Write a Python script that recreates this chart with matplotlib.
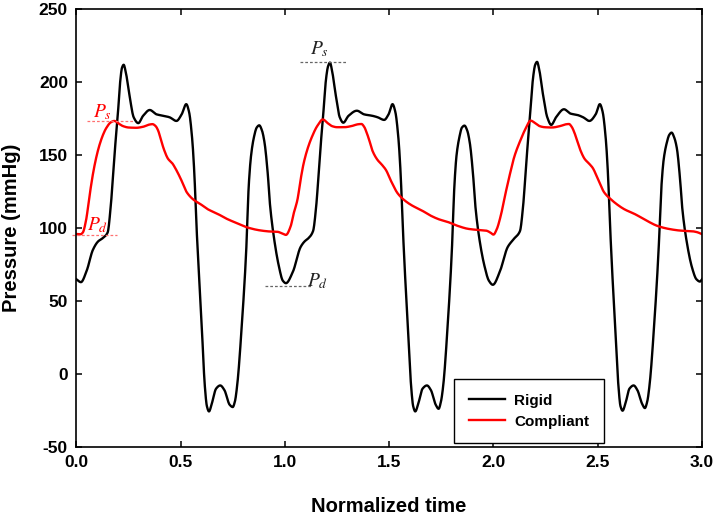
import numpy as np
import matplotlib
matplotlib.use("Agg")
import matplotlib.pyplot as plt

plt.rcParams["font.family"] = ["Liberation Sans", "DejaVu Sans"]
plt.rcParams["mathtext.fontset"] = "stix"
plt.rcParams["axes.unicode_minus"] = False

# Rigid tube pressure (normalized time, mmHg)
rigid_t = [0.000, 0.022, 0.050, 0.079, 0.105, 0.125, 0.150, 0.165, 0.178, 0.190,
           0.200, 0.210, 0.219, 0.227, 0.237, 0.255, 0.275, 0.297, 0.320, 0.352,
           0.385, 0.420, 0.447, 0.480, 0.505, 0.527, 0.540, 0.555, 0.566, 0.575,
           0.587, 0.600, 0.616, 0.626, 0.636, 0.650, 0.670, 0.690, 0.710, 0.735,
           0.750, 0.760, 0.771, 0.795, 0.814, 0.827, 0.838, 0.851, 0.865, 0.877,
           0.890, 0.902, 0.918, 0.928, 0.947, 0.971, 0.990, 1.005,
           1.038, 1.075, 1.095, 1.112, 1.135, 1.150, 1.163, 1.175, 1.186, 1.197,
           1.207, 1.216, 1.226, 1.244, 1.263, 1.280, 1.305, 1.345, 1.380, 1.420,
           1.445, 1.476, 1.497, 1.516, 1.529, 1.544, 1.555, 1.564, 1.575, 1.588,
           1.605, 1.615, 1.625, 1.640, 1.660, 1.681, 1.700, 1.723, 1.737, 1.748,
           1.759, 1.782, 1.800, 1.813, 1.823, 1.836, 1.849, 1.861, 1.874, 1.886,
           1.902, 1.912, 1.931, 1.957, 1.978, 1.997,
           2.030, 2.068, 2.088, 2.100, 2.127, 2.142, 2.155, 2.167, 2.178, 2.189,
           2.200, 2.209, 2.219, 2.237, 2.258, 2.277, 2.300, 2.338, 2.370, 2.402,
           2.430, 2.460, 2.490, 2.510, 2.523, 2.538, 2.549, 2.558, 2.569, 2.582,
           2.599, 2.609, 2.619, 2.633, 2.652, 2.672, 2.690, 2.713, 2.726, 2.737,
           2.748, 2.772, 2.791, 2.805, 2.816, 2.830, 2.843, 2.854, 2.867, 2.879,
           2.895, 2.905, 2.925, 2.952, 2.973, 2.990, 3.000]
rigid_p = [65, 63, 71, 85, 91, 93, 97, 115, 140, 163,
           180, 200, 210, 212, 207, 191, 176, 172, 177, 181,
           178, 177, 176, 173.5, 178, 185, 180, 162, 137, 105,
           71, 37, -8, -22, -25.6, -20, -10, -7.8, -11, -21,
           -22.6, -19, -8, 37, 83, 130, 150, 162, 169, 170.5,
           167, 159, 137, 117, 94, 74, 64, 62.3,
           70, 87, 91, 93, 98, 115, 140, 163, 182, 202,
           211, 213.5, 208, 191, 176, 172.3, 177, 180.5, 178, 177,
           176, 174.2, 178, 185, 180, 162, 137, 105, 71, 37,
           -8, -22, -25.6, -20, -10, -7.8, -11, -21, -23.8, -19,
           -8, 37, 83, 130, 150, 162, 169, 170.3, 167, 159,
           137, 117, 94, 74, 64, 61.2,
           70, 87, 91, 93, 98, 115, 140, 163, 182, 202,
           212, 214, 209, 192, 176, 170.8, 176, 181.5, 178.5, 177.6,
           176, 173.5, 178, 185, 180, 162, 137, 105, 71, 37,
           -8, -22, -25.1, -20, -10, -7.8, -11, -20.5, -23.3, -19,
           -8, 37, 83, 128, 147, 158, 164, 165.5, 162, 155,
           133, 114, 92, 73, 65, 63.4, 65]

# Compliant tube pressure
compliant_t = [0.000, 0.020, 0.031, 0.047, 0.062, 0.082, 0.098, 0.111, 0.128, 0.143,
               0.165, 0.182, 0.205, 0.223, 0.250, 0.287, 0.320, 0.350, 0.365, 0.380,
               0.392, 0.405, 0.420, 0.440, 0.460, 0.475, 0.500, 0.530, 0.562, 0.595,
               0.630, 0.675, 0.720, 0.760, 0.820, 0.880, 0.930, 0.965, 0.985, 1.005,
               1.027, 1.042, 1.060, 1.075, 1.090, 1.110, 1.130, 1.155, 1.182, 1.205,
               1.225, 1.250, 1.284, 1.320, 1.350, 1.367, 1.380, 1.392, 1.404, 1.420,
               1.444, 1.465, 1.484, 1.510, 1.540, 1.570, 1.610, 1.652, 1.700, 1.740,
               1.780, 1.830, 1.880, 1.940, 1.965, 1.985, 2.000,
               2.015, 2.034, 2.058, 2.080, 2.100, 2.130, 2.155, 2.178, 2.200, 2.220,
               2.245, 2.280, 2.320, 2.348, 2.362, 2.375, 2.388, 2.400, 2.418, 2.437,
               2.460, 2.475, 2.500, 2.531, 2.565, 2.600, 2.627, 2.680, 2.730, 2.787,
               2.840, 2.900, 2.947, 2.975, 3.000]
compliant_p = [96, 95.8, 97, 105.7, 121, 139, 150, 157, 164, 168.5,
               172.5, 173.5, 171.5, 170, 169, 168.8, 169.5, 171, 171.3, 170,
               167, 161, 154, 147.5, 144.5, 141, 134, 124.5, 119.5, 116.5,
               113, 110, 106.5, 104, 100.5, 98.5, 97.7, 97.5, 96.5, 95.4,
               101, 110, 119.4, 133, 144.5, 155, 162.7, 170, 174.5, 172,
               170, 169.2, 169.2, 170, 171.2, 171.4, 169.5, 165.5, 160.5, 153,
               146.8, 143.5, 140, 132, 124, 119.5, 115.5, 112.5, 108.5, 106,
               104.3, 101.5, 99.5, 98.6, 98.3, 97, 95.6,
               99, 108, 124, 137.7, 149, 160.5, 168.5, 173.7, 172, 170,
               169.2, 169, 170, 171.2, 171.4, 169.5, 165.5, 160.5, 153, 147.5,
               144, 141.5, 134, 124.5, 119.5, 115.5, 113, 109.5, 105.5, 101.5,
               99.5, 98.3, 98, 97.3, 95.9]


def smooth(x, y, n=3000):
    # monotone cubic (pchip) just to draw a smooth line through the read points
    x = np.asarray(x, float)
    y = np.asarray(y, float)
    h = np.diff(x)
    d = np.diff(y) / h
    m = np.zeros_like(y)
    m[0], m[-1] = d[0], d[-1]
    for k in range(1, len(x) - 1):
        if d[k - 1] * d[k] > 0:
            w1 = 2 * h[k] + h[k - 1]
            w2 = h[k] + 2 * h[k - 1]
            m[k] = (w1 + w2) / (w1 / d[k - 1] + w2 / d[k])
    xs = np.linspace(x[0], x[-1], n)
    i = np.clip(np.searchsorted(x, xs) - 1, 0, len(x) - 2)
    s = (xs - x[i]) / h[i]
    h00 = 2 * s**3 - 3 * s**2 + 1
    h10 = s**3 - 2 * s**2 + s
    h01 = -2 * s**3 + 3 * s**2
    h11 = s**3 - s**2
    ys = h00 * y[i] + h10 * h[i] * m[i] + h01 * y[i + 1] + h11 * h[i] * m[i + 1]
    return xs, ys


fig = plt.figure(figsize=(7.16, 5.15), dpi=100)
ax = fig.add_axes([0.1066, 0.1320, 0.8739, 0.8499])

rx, ry = smooth(rigid_t, rigid_p)
cx, cy = smooth(compliant_t, compliant_p)
ax.plot(rx, ry, color="black", lw=1.7, label="Rigid")
ax.plot(cx, cy, color="#ff0000", lw=1.7, label="Compliant")

# Ps / Pd markers
dash = (0, (2.2, 1.6))
ax.plot([0.05, 0.27], [173.7, 173.7], color="#ff7070", lw=0.9, ls=dash)
ax.plot([-0.02, 0.196], [95.4, 95.4], color="#ff7070", lw=0.9, ls=dash, clip_on=False)
ax.plot([1.071, 1.292], [214.1, 214.1], color="#666666", lw=0.9, ls=dash)
ax.plot([0.907, 1.124], [60.7, 60.7], color="#666666", lw=0.9, ls=dash)
ax.text(0.08, 176, r"$P_s$", color="#ff0000", fontsize=14)
ax.text(0.05, 98.5, r"$P_d$", color="#ff0000", fontsize=14)
ax.text(1.12, 219.5, r"$P_s$", color="#222222", fontsize=14)
ax.text(1.108, 60.5, r"$P_d$", color="#222222", fontsize=14)

ax.set_xlim(0, 3)
ax.set_ylim(-50, 250)
ax.set_xticks(np.arange(0, 3.01, 0.5))
ax.set_yticks(np.arange(-50, 251, 50))
ax.set_xticklabels([f"{v:.1f}" for v in np.arange(0, 3.01, 0.5)])
ax.tick_params(direction="in", top=True, right=True, length=4, width=1.1,
               labelsize=12.5, pad=6)
for lab in ax.get_xticklabels() + ax.get_yticklabels():
    lab.set_fontweight("bold")
for sp in ax.spines.values():
    sp.set_linewidth(1.2)

ax.set_xlabel("Normalized time", fontsize=14.5, fontweight="bold", labelpad=19)
ax.set_ylabel("Pressure (mmHg)", fontsize=14.5, fontweight="bold", labelpad=13)

leg = ax.legend(loc="lower left", bbox_to_anchor=(0.6036, 0.009), borderaxespad=0,
                fancybox=False, edgecolor="black", framealpha=1, borderpad=0.95,
                handlelength=2.4, handletextpad=0.6, labelspacing=0.45,
                prop={"size": 11, "weight": "bold"})
leg.get_frame().set_linewidth(1.0)

fig.savefig("out.png", dpi=100)
